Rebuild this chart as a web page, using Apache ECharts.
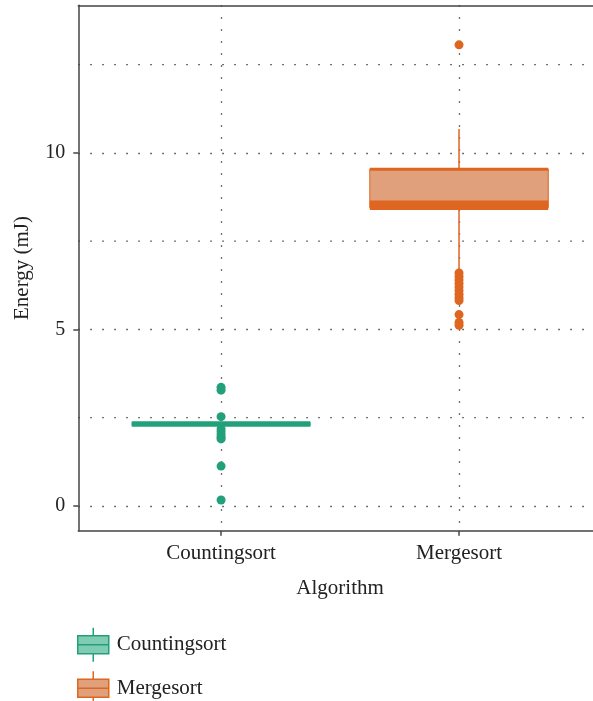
<!DOCTYPE html>
<html>
<head>
<meta charset="utf-8">
<script src="https://cdn.jsdelivr.net/npm/echarts@6/dist/echarts.min.js"></script>
<style>
html,body{margin:0;padding:0;background:#fff;}
#chart{width:593px;height:701px;}
</style>
</head>
<body>
<div id="chart"></div>
<script>
// ---- data ----
const categories = ['Countingsort', 'Mergesort'];
// [lower whisker, Q1, median, Q3, upper whisker]
const countingBox = [2.32, 2.32, 2.32, 2.32, 2.32];
const mergeBox = [6.68, 8.45, 8.58, 9.54, 10.68];
const countingOutliers = [3.36, 3.28, 2.53, 2.18, 2.1, 2.02, 1.95, 1.9, 1.13, 0.17];
const mergeOutliers = [13.06, 6.6, 6.5, 6.4, 6.3, 6.2, 6.1, 6.0, 5.9, 5.82, 5.42, 5.2, 5.12];
const yTickLabels = [0, 5, 10];
const yGridValues = [0, 2.5, 5, 7.5, 10, 12.5];

const colors = ['#22A07A', '#DE6620'];
const fills = ['#80CCB3', '#E0A07C'];
const boxes = [countingBox, mergeBox];
const outliers = [countingOutliers, mergeOutliers];

const FONT = '"Liberation Serif", "DejaVu Serif", serif';
const TXT = '#222';
const AXIS_LINE = {show: true, onZero: false, lineStyle: {color: '#444', width: 1.5}};

function boxRender(ci) {
  return function (params, api) {
    const x = api.value(0);
    const lo = api.value(1), q1 = api.value(2), med = api.value(3), q3 = api.value(4), hi = api.value(5);
    const half = api.size([0.75, 0])[0] / 2;
    const c = colors[ci];
    const pLo = api.coord([x, lo]), pQ1 = api.coord([x, q1]), pMed = api.coord([x, med]),
          pQ3 = api.coord([x, q3]), pHi = api.coord([x, hi]);
    const cx = pMed[0];
    const line = (x1, y1, x2, y2, w) => ({
      type: 'line', shape: {x1, y1, x2, y2}, style: {stroke: c, lineWidth: w}
    });
    return {
      type: 'group',
      children: [
        line(cx, pHi[1], cx, pQ3[1], 1.5),
        line(cx, pQ1[1], cx, pLo[1], 1.5),
        {type: 'rect', shape: {x: cx - half, y: pQ3[1], width: half * 2, height: pQ1[1] - pQ3[1]},
         style: {fill: fills[ci], stroke: c, lineWidth: 1, opacity: 1}},
        line(cx - half, pQ3[1], cx + half, pQ3[1], 3),
        line(cx - half, pQ1[1], cx + half, pQ1[1], 5),
        line(cx - half, pMed[1], cx + half, pMed[1], 5)
      ]
    };
  };
}

const series = [];
categories.forEach((name, i) => {
  series.push({
    name: name,
    type: 'custom',
    renderItem: boxRender(i),
    encode: {x: 0, y: [1, 2, 3, 4, 5]},
    data: [[i + 1].concat(boxes[i])],
    z: 2
  });
});
categories.forEach((name, i) => {
  series.push({
    name: name + ' outliers',
    type: 'scatter',
    symbolSize: 9,
    itemStyle: {color: colors[i], opacity: 1},
    data: outliers[i].map(v => [i + 1, v]),
    z: 3
  });
});

const iconPath = 'path://M15.5,0L15.5,8M0,8L31,8L31,26L0,26ZM0,17L31,17M15.5,26L15.5,34';

const dotted = {color: '#444', width: 1.3, type: [1.5, 10.5]};

// dotted horizontal grid lines at the 2.5 steps not covered by labelled ticks
series.push({
  name: 'grid',
  type: 'custom',
  silent: true,
  z: 0,
  renderItem: function (params, api) {
    const y = api.value(0);
    const p = api.coord([0.4, y]);
    const q = api.coord([2.6, y]);
    return {type: 'line', shape: {x1: p[0], y1: p[1], x2: q[0], y2: q[1]},
            style: {stroke: dotted.color, lineWidth: dotted.width, lineDash: dotted.type}};
  },
  encode: {y: 0},
  data: yGridValues.filter(v => yTickLabels.indexOf(v) < 0).map(v => [v])
});

const option = {
  animation: false,
  backgroundColor: '#fff',
  grid: {
    left: 78.3, top: 5.3, width: 523.5, height: 525.4,
    outerBoundsMode: 'none', containLabel: false,
    show: false
  },
  legend: {
    orient: 'vertical',
    left: 77, top: 627, height: 120, padding: 0,
    itemWidth: 31, itemHeight: 34, itemGap: 8,
    selectedMode: false,
    textStyle: {fontFamily: FONT, fontSize: 21, color: TXT, padding: [0, 0, 0, 3]},
    data: categories.map((n, i) => ({
      name: n, icon: iconPath,
      itemStyle: {color: fills[i], borderColor: colors[i], borderWidth: 1.5}
    }))
  },
  xAxis: [{
    type: 'value', min: 0.4, max: 2.6, position: 'bottom',
    name: 'Algorithm', nameLocation: 'middle', nameGap: 47,
    nameTextStyle: {fontFamily: FONT, fontSize: 21, color: TXT},
    axisLine: AXIS_LINE,
    axisTick: {show: true, customValues: [1, 2], length: 5, lineStyle: {color: '#444', width: 1.5}},
    axisLabel: {
      customValues: [1, 2], margin: 12,
      fontFamily: FONT, fontSize: 21, color: TXT,
      formatter: v => categories[Math.round(v) - 1]
    },
    splitLine: {show: true, lineStyle: dotted}
  }, {
    type: 'value', min: 0.4, max: 2.6, position: 'top',
    axisLine: AXIS_LINE,
    axisTick: {show: false}, axisLabel: {show: false}, splitLine: {show: false}
  }],
  yAxis: [{
    type: 'value', min: -0.7, max: 14.18, position: 'left',
    name: 'Energy (mJ)', nameLocation: 'middle', nameGap: 45,
    nameTextStyle: {fontFamily: FONT, fontSize: 21, color: TXT},
    axisLine: AXIS_LINE,
    axisTick: {show: true, customValues: yTickLabels, length: 5, lineStyle: {color: '#444', width: 1.5}},
    axisLabel: {customValues: yTickLabels, margin: 13, fontFamily: FONT, fontSize: 20, color: TXT},
    splitLine: {show: true, lineStyle: dotted}
  }],
  series: series
};

const chart = echarts.init(document.getElementById('chart'), null, {renderer: 'canvas'});
chart.setOption(option);
</script>
</body>
</html>
